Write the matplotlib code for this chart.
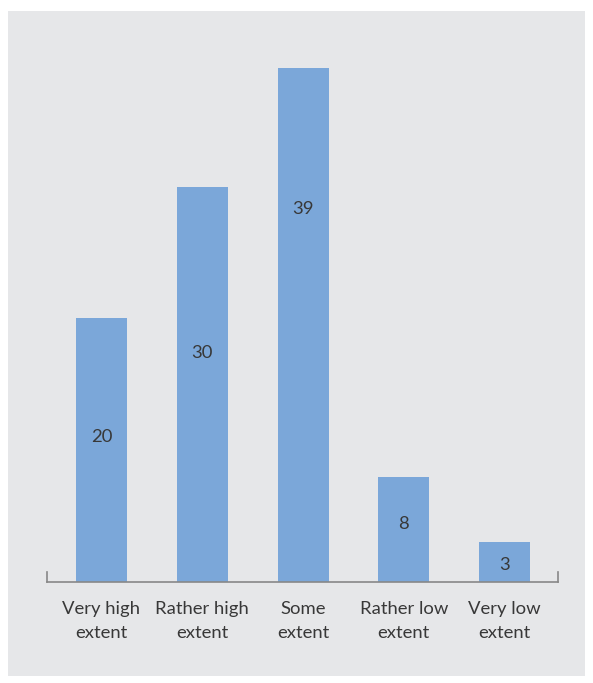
import matplotlib
matplotlib.use("Agg")
import matplotlib.pyplot as plt
from matplotlib.patches import Rectangle

categories = ["Very high\nextent", "Rather high\nextent", "Some\nextent", "Rather low\nextent", "Very low\nextent"]
values = [20, 30, 39, 8, 3]

# value-label vertical anchors (data units, as in the original layout)
label_y = [11.0, 17.4, 28.3, 4.4, 1.3]

BAR = "#7ba7d9"
PANEL = "#e6e7e9"
TXT = "#383838"
plt.rcParams['font.family'] = ['Lato', 'DejaVu Sans']

W, H = 593, 683
fig = plt.figure(figsize=(W / 100, H / 100), dpi=100)
fig.patch.set_facecolor("white")
bg = fig.add_axes([8 / W, (H - 676) / H, (585 - 8) / W, (676 - 11) / H], zorder=-5)
bg.set_facecolor(PANEL)
bg.axis("off")
bg.add_patch(Rectangle((0, 0), 1, 1, transform=bg.transAxes, facecolor=PANEL, edgecolor="none"))

ax = fig.add_axes([47 / W, (H - 582) / H, (558 - 47) / W, (582 - 68) / H], zorder=1)
ax.set_facecolor("none")
x = list(range(len(values)))
ax.bar(x, values, width=0.506, color=BAR, zorder=2)
for xi, ly, v in zip(x, label_y, values):
    ax.text(xi, ly, str(v), ha="center", va="center", fontsize=13.3, color=TXT, zorder=3)

ax.set_xlim(-0.54, 4.53)
ax.set_ylim(0, 39)
for s in ["top", "right", "left"]:
    ax.spines[s].set_visible(False)
ax.spines["bottom"].set_color("#888888")
ax.spines["bottom"].set_linewidth(1.2)
ax.set_yticks([])
ax.set_xticks(x)
ax.set_xticklabels(categories, fontsize=13.3, color=TXT, linespacing=1.6)
ax.tick_params(axis="x", length=0, pad=14)
# end ticks of axis
ax.plot([-0.54, -0.54], [0, 0.75], color="#888888", lw=1.2, clip_on=False)
ax.plot([4.53, 4.53], [0, 0.75], color="#888888", lw=1.2, clip_on=False)

fig.savefig("out.png", dpi=100)
